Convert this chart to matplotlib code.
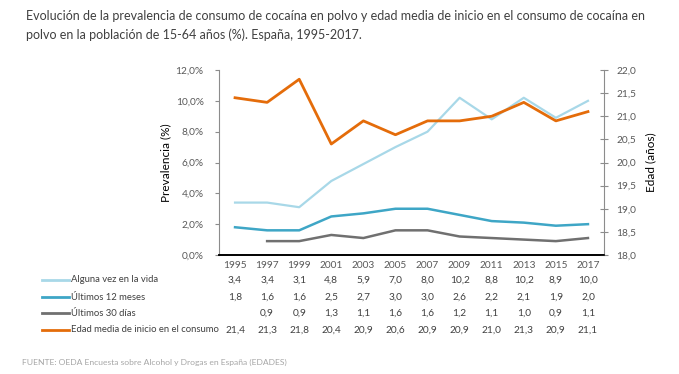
import matplotlib
matplotlib.use('Agg')
import matplotlib.pyplot as plt
import matplotlib.transforms as mtransforms
import numpy as np

plt.rcParams['font.family'] = ['Lato', 'DejaVu Sans']

years = ['1995', '1997', '1999', '2001', '2003', '2005', '2007', '2009', '2011', '2013', '2015', '2017']
alguna_vez = [3.4, 3.4, 3.1, 4.8, 5.9, 7.0, 8.0, 10.2, 8.8, 10.2, 8.9, 10.0]
ultimos_12 = [1.8, 1.6, 1.6, 2.5, 2.7, 3.0, 3.0, 2.6, 2.2, 2.1, 1.9, 2.0]
ultimos_30 = [np.nan, 0.9, 0.9, 1.3, 1.1, 1.6, 1.6, 1.2, 1.1, 1.0, 0.9, 1.1]
edad_media = [21.4, 21.3, 21.8, 20.4, 20.9, 20.6, 20.9, 20.9, 21.0, 21.3, 20.9, 21.1]

series_names = ['Alguna vez en la vida', 'Últimos 12 meses', 'Últimos 30 días',
                'Edad media de inicio en el consumo']
colors = ['#a8d8e8', '#3ea6c6', '#707070', '#e46c0a']

title = ('Evolución de la prevalencia de consumo de cocaína en polvo y edad media de inicio en el consumo de cocaína en\n'
         'polvo en la población de 15-64 años (%). España, 1995-2017.')
source = 'FUENTE: OEDA Encuesta sobre Alcohol y Drogas en España (EDADES)'

W, H = 679, 374
fig = plt.figure(figsize=(W / 100, H / 100), dpi=100)
ax = fig.add_axes([219 / W, 1 - 255 / H, (604 - 219) / W, (255 - 70) / H])
ax2 = ax.twinx()

x = np.arange(len(years))
ax.plot(x, alguna_vez, color=colors[0], lw=1.6, zorder=2)
ax.plot(x, ultimos_12, color=colors[1], lw=1.8, zorder=2)
ax.plot(x, ultimos_30, color=colors[2], lw=1.8, zorder=2)
ax2.plot(x, edad_media, color=colors[3], lw=2.0)

tick_col = '#595959'
spine_col = '#8c8c8c'

ax.set_xlim(-0.5, len(years) - 0.5)
ax.set_ylim(0, 12)
ax.set_yticks(np.arange(0, 12.1, 2))
ax.set_yticklabels([f'{v:.1f}%'.replace('.', ',') for v in np.arange(0, 12.1, 2)])
ax2.set_ylim(18, 22)
ax2.set_yticks(np.arange(18, 22.01, 0.5))
ax2.set_yticklabels([f'{v:.1f}'.replace('.', ',') for v in np.arange(18, 22.01, 0.5)])

ax.set_xticks(x)
ax.set_xticklabels(years)
ax.tick_params(axis='x', length=0, pad=4, labelsize=7.3, colors=tick_col)
ax.tick_params(axis='y', length=3, width=0.8, color=spine_col, labelsize=7.3, labelcolor=tick_col, pad=8)
ax2.tick_params(axis='y', direction='inout', length=6, width=0.8, color=spine_col,
                labelsize=7.3, labelcolor=tick_col, pad=6)

for a in (ax, ax2):
    a.spines['top'].set_visible(False)
    a.spines['left'].set_color(spine_col)
    a.spines['right'].set_color(spine_col)
    a.spines['bottom'].set_color('black')
    a.spines['bottom'].set_linewidth(1.2)
ax2.spines['left'].set_visible(False)
ax.spines['right'].set_visible(False)

ax.set_ylabel('Prevalencia (%)', fontsize=8.5, color='black', labelpad=3)
ax2.set_ylabel('Edad (años)', fontsize=8.5, color='black', labelpad=6)

# tabla de datos bajo el grafico
trans = mtransforms.blended_transform_factory(ax.transData, fig.transFigure)
row_y = [280, 297, 313, 330]
table = [alguna_vez, ultimos_12, ultimos_30, edad_media]
for name, col, vals, yy in zip(series_names, colors, table, row_y):
    fy = 1 - yy / H
    fig.add_artist(plt.Line2D([42 / W, 69 / W], [fy, fy], color=col, lw=2.0, transform=fig.transFigure))
    fig.text(71 / W, fy, name, fontsize=6.8, color='#404040', va='center', ha='left')
    for i, v in enumerate(vals):
        if np.isnan(v):
            continue
        fig.text(i, fy, f'{v:.1f}'.replace('.', ','), fontsize=7.3, color='#404040',
                 va='center', ha='center', transform=trans)

fig.text(26 / W, 1 - 10 / H, title, fontsize=9, color='#404040', va='top', ha='left', linespacing=1.65)
fig.text(22 / W, 1 - 362 / H, source, fontsize=6.1, color='#a6a6a6', va='center', ha='left')

fig.savefig('out.png', dpi=100)
